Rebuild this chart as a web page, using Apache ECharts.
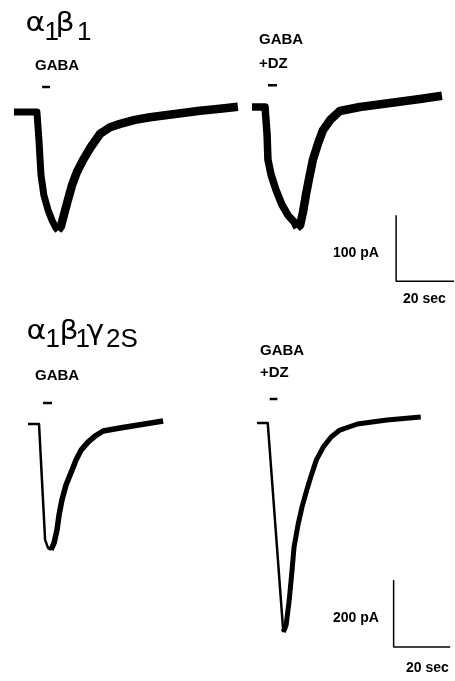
<!DOCTYPE html>
<html><head><meta charset="utf-8">
<style>html,body{margin:0;padding:0;background:#fff}#c{width:455px;height:681px}</style>
<script src="https://cdn.jsdelivr.net/npm/echarts@6/dist/echarts.min.js"></script>
</head><body><div id="c"></div>
<script>
// ---- data: time (s) from trace start, current (pA) relative to baseline ----
const a1b1GabaTime    = [0, 7.9, 8.6, 9.3, 10.3, 11.7, 13.1, 14.5, 15.2, 16.2, 17.2, 18.6, 20.0, 21.7, 23.8, 26.2, 29.7, 33.1, 36.6, 41.7, 46.9, 55.5, 64.1, 71.0, 77.2];
const a1b1GabaCurrent = [0, 0, -42, -95, -126, -148, -164, -176, -179, -173, -156, -133, -111, -91, -73, -55, -33, -23, -18, -12, -8, -3, 2, 5, 8];

const a1b1DzTime    = [0, 4.5, 5.2, 5.5, 6.6, 8.3, 10.3, 12.4, 14.5, 15.5, 16.6, 17.6, 18.6, 19.7, 21.0, 22.8, 24.5, 26.9, 30.3, 37.2, 47.6, 57.9, 65.5];
const a1b1DzCurrent = [0, 0, -42, -80, -103, -126, -148, -164, -174, -183, -179, -159, -133, -108, -80, -55, -35, -20, -6, 0, 6, 12, 17];

const a1b1g2GabaTime    = [0, 3.8, 5.9, 6.9, 7.9, 9.0, 10.0, 10.7, 11.7, 13.1, 14.8, 16.6, 18.3, 20.7, 23.1, 25.9, 31.7, 38.6, 46.6];
const a1b1g2GabaCurrent = [0, 0, -346, -370, -376, -355, -316, -272, -227, -182, -146, -107, -78, -54, -36, -21, -12, -2, 9];

const a1b1g2DzTime    = [0, 3.8, 9.3, 10.3, 11.4, 12.4, 13.1, 14.5, 15.9, 17.6, 19.0, 21.0, 23.4, 26.2, 29.3, 35.5, 45.9, 57.9];
const a1b1g2DzCurrent = [0, 0, -624, -603, -528, -439, -370, -304, -251, -200, -161, -110, -72, -42, -21, -3, 9, 18];

// GABA application bars (start, end in s)
const gabaPulse = [[9.7, 12.4], [5.5, 8.6], [5.2, 8.3], [4.5, 7.2]];

// scale bars
const topScalePA = 100, bottomScalePA = 200, scaleSec = 20;

// ---- layout ----
const PX_PER_S = 2.9;
const panels = [
  {x0: 14,  y0: 112, pxPA: 0.66,  tMax: 80, pMin: -280, pMax: 50, pulseLevel: 38, time: a1b1GabaTime, cur: a1b1GabaCurrent, w1: 7, w2: 8.5},
  {x0: 252, y0: 107, pxPA: 0.66,  tMax: 70, pMin: -280, pMax: 50, pulseLevel: 33, time: a1b1DzTime, cur: a1b1DzCurrent, w1: 7.5, w2: 8.5},
  {x0: 28,  y0: 424, pxPA: 0.335, tMax: 60, pMin: -700, pMax: 90, pulseLevel: 63, time: a1b1g2GabaTime, cur: a1b1g2GabaCurrent, w1: 2.5, w2: 5.5},
  {x0: 257, y0: 423, pxPA: 0.335, tMax: 70, pMin: -700, pMax: 90, pulseLevel: 72, time: a1b1g2DzTime, cur: a1b1g2DzCurrent, w1: 2.5, w2: 5}
];
// scale-bar corners in the right panels' data units
const scaleBars = [
  {panel: 1, t: 49.7, pA: -264, amp: topScalePA},
  {panel: 3, t: 48.3, pA: -669, amp: bottomScalePA}
];

const grids = [], xAxes = [], yAxes = [], series = [];
panels.forEach((p, i) => {
  grids.push({left: p.x0, top: p.y0 - p.pMax * p.pxPA, width: p.tMax * PX_PER_S, height: (p.pMax - p.pMin) * p.pxPA, containLabel: false});
  xAxes.push({type: 'value', gridIndex: i, min: 0, max: p.tMax, show: false});
  yAxes.push({type: 'value', gridIndex: i, min: p.pMin, max: p.pMax, show: false});
  const pts = p.time.map((t, k) => [t, p.cur[k]]);
  let trough = 0;
  p.cur.forEach((v, k) => { if (v < p.cur[trough]) trough = k; });
  const common = {type: 'line', xAxisIndex: i, yAxisIndex: i, symbol: 'none', silent: true, animation: false};
  series.push(Object.assign({}, common, {data: pts.slice(0, trough + 1), lineStyle: {color: '#000', width: p.w1, join: 'round', cap: 'butt'}}));
  series.push(Object.assign({}, common, {data: pts.slice(trough), lineStyle: {color: '#000', width: p.w2, join: 'round', cap: 'butt'}}));
  series.push(Object.assign({}, common, {data: [[gabaPulse[i][0], p.pulseLevel], [gabaPulse[i][1], p.pulseLevel]], lineStyle: {color: '#000', width: 2.5}}));
});
scaleBars.forEach(s => {
  series.push({type: 'line', xAxisIndex: s.panel, yAxisIndex: s.panel, symbol: 'none', silent: true, animation: false,
    data: [[s.t, s.pA + s.amp], [s.t, s.pA], [s.t + scaleSec, s.pA]],
    lineStyle: {color: '#000', width: 1.5}});
});

const LBL = 'bold 15px "Liberation Sans", Arial, sans-serif';
const SM = 'bold 14px "Liberation Sans", Arial, sans-serif';
const GR = '26px "DejaVu Sans", sans-serif';
const SUB = '26px "Liberation Sans", Arial, sans-serif';
function txt(x, y, text, font, sx) {
  return {type: 'text', x: x, y: y, scaleX: sx || 1, silent: true, style: {text: text, font: font, fill: '#000', verticalAlign: 'middle', textVerticalAlign: 'middle'}};
}
const G = 1.15;
const graphic = [
  // titles
  txt(25.5, 24, 'α', GR, G), txt(44.5, 33, '1', SUB), txt(55.5, 24, 'β', GR, G), txt(77, 33, '1', SUB),
  txt(26.5, 332.5, 'α', GR, G), txt(45.5, 340, '1', SUB), txt(59.5, 332.5, 'β', GR, G), txt(75.5, 340, '1', SUB), txt(86.5, 332.5, 'γ', GR, G), txt(106, 340, '2S', SUB),
  // labels
  txt(35, 66, 'GABA', LBL),
  txt(259, 40, 'GABA', LBL), txt(259, 64, '+DZ', LBL),
  txt(35, 376, 'GABA', LBL),
  txt(260, 351, 'GABA', LBL), txt(260, 373, '+DZ', LBL),
  txt(333, 253, '100 pA', SM), txt(403, 299, '20 sec', SM),
  txt(333, 618, '200 pA', SM), txt(406, 668, '20 sec', SM)
];

const chart = echarts.init(document.getElementById('c'), null, {renderer: 'canvas'});
chart.setOption({
  backgroundColor: '#fff',
  animation: false,
  grid: grids, xAxis: xAxes, yAxis: yAxes,
  series: series,
  graphic: graphic
});
</script></body></html>
